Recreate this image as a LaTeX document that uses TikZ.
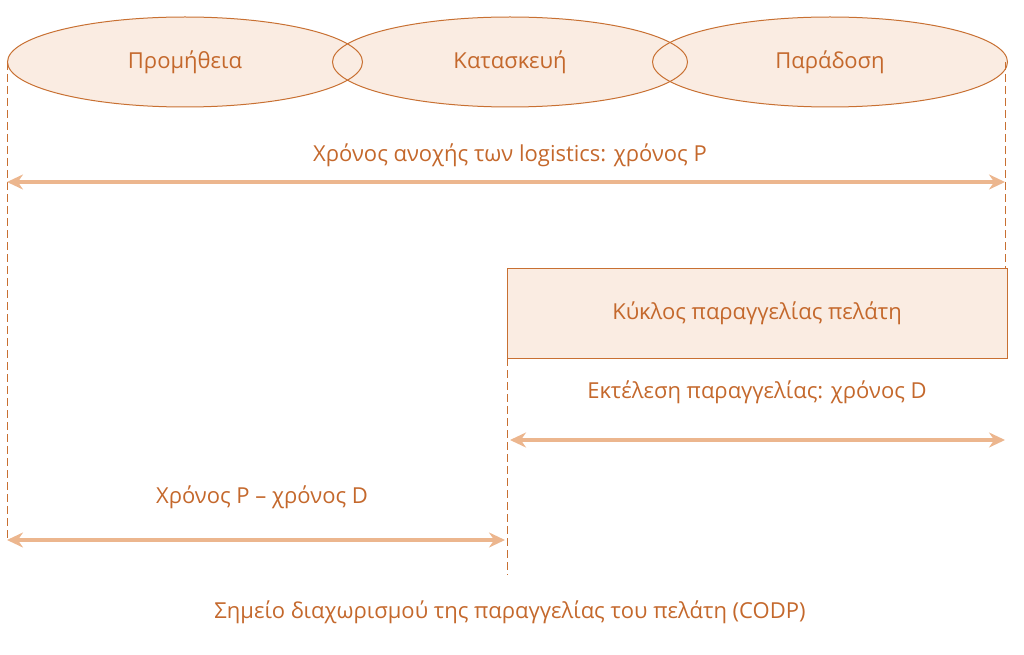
\documentclass[tikz,border=0pt]{standalone}
\usepackage{fontspec}
\setmainfont{Open Sans}
\usetikzlibrary{shapes.geometric,arrows.meta}
\definecolor{tx}{RGB}{196,104,44}
\definecolor{ln}{RGB}{200,112,50}
\definecolor{fl}{RGB}{250,236,226}
\definecolor{ar}{RGB}{236,182,142}
\tikzset{
 lbl/.style={text=tx,font=\fontsize{22}{26}\selectfont,inner sep=0},
 ell/.style={ellipse,fill=fl,minimum width=355pt,minimum height=90pt},
 eo/.style={draw=ln,line width=1pt},
 dl/.style={draw=ln,dash pattern=on 8pt off 4pt,line width=1pt},
 arw/.style={draw=ar,line width=3.5pt,{Stealth[length=16pt,width=15pt]}-{Stealth[length=16pt,width=15pt]}},
}
\begin{document}
\begin{tikzpicture}[x=1pt,y=-1pt]
\useasboundingbox (0,0) rectangle (1024,655);
\node[ell] (e1) at (185,62) {};
\node[ell] (e2) at (510,62) {};
\node[ell] (e3) at (830,62) {};
\draw[eo] (e1.center) ellipse [x radius=177.5pt, y radius=45pt];
\draw[eo] (e2.center) ellipse [x radius=177.5pt, y radius=45pt];
\draw[eo] (e3.center) ellipse [x radius=177.5pt, y radius=45pt];
\node[lbl] (t1) at (e1) {Προμήθεια};
\node[lbl] (t2) at (e2) {Κατασκευή};
\node[lbl] (t3) at (e3) {Παράδοση};
\coordinate (L) at (7,62);
\coordinate (R) at (1005,62);
\coordinate (Lb) at (7,540);
\coordinate (Rb) at (1005,268);
\coordinate (Mt) at (507,358);
\coordinate (Mb) at (507,575);
\draw[dl] (L) -- (Lb);
\draw[dl] (R) -- (Rb);
\draw[dl] (Mt) -- (Mb);
\node[lbl] (a1t) at (510,155) {Χρόνος ανοχής των logistics: χρόνος P};
\coordinate (a1l) at (7,182); \coordinate (a1r) at (1005,182);
\draw[arw] (a1l) -- (a1r);
\node[draw=ln,fill=fl,line width=1pt,minimum width=500pt,minimum height=90pt,inner sep=0] (box) at (757,313) {};
\node[lbl] (boxt) at (box) {Κύκλος παραγγελίας πελάτη};
\node[lbl] (a2t) at (757,392) {Εκτέλεση παραγγελίας: χρόνος D};
\coordinate (a2l) at (510,440); \coordinate (a2r) at (1005,440);
\draw[arw] (a2l) -- (a2r);
\node[lbl] (a3t) at (262,497) {Χρόνος P – χρόνος D};
\coordinate (a3l) at (7,540); \coordinate (a3r) at (505,540);
\draw[arw] (a3l) -- (a3r);
\node[lbl] (bt) at (510,612) {Σημείο διαχωρισμού της παραγγελίας του πελάτη (CODP)};
\end{tikzpicture}
\end{document}
